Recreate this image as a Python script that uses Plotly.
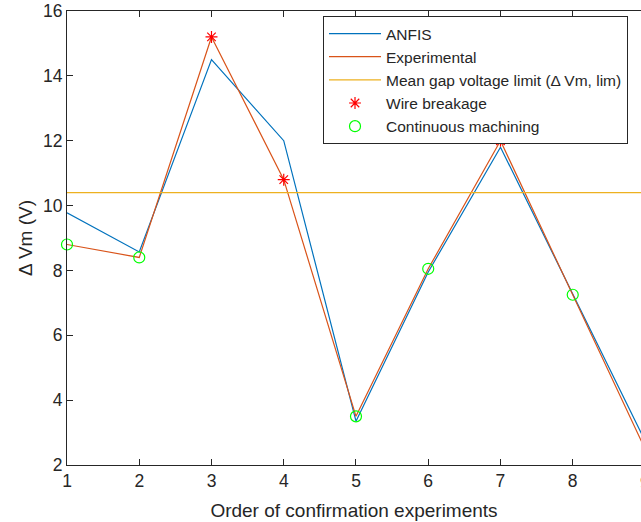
import plotly.graph_objects as go

# ---- data ----
experiments = [1, 2, 3, 4, 5, 6, 7, 8, 9]
anfis = [9.78, 8.57, 14.5, 12.0, 3.35, 7.95, 11.8, 7.3, 2.75]
experimental = [8.8, 8.4, 15.2, 10.8, 3.5, 8.05, 12.0, 7.25, 2.5]
limit_value = 10.4
breakage_x = [3, 4, 7]
breakage_y = [15.2, 10.8, 12.0]
continuous_x = [1, 2, 5, 6, 8, 9]
continuous_y = [8.8, 8.4, 3.5, 8.05, 7.25, 2.5]
x_ticks = [1, 2, 3, 4, 5, 6, 7, 8]
y_ticks = [2, 4, 6, 8, 10, 12, 14, 16]

XMIN, XMAX = 1, 8.945   # axis is cut at the window edge just before x = 9
FONT = "Liberation Sans, Arial, Helvetica, sans-serif"
TXT = "#262626"

fig = go.Figure()
fig.add_trace(go.Scatter(x=experiments, y=anfis, mode="lines", name="ANFIS",
                         line=dict(color="#0072BD", width=1.2)))
fig.add_trace(go.Scatter(x=experiments, y=experimental, mode="lines", name="Experimental",
                         line=dict(color="#D95319", width=1.2)))
fig.add_trace(go.Scatter(x=[experiments[0], experiments[-1]], y=[limit_value, limit_value],
                         mode="lines", name="Mean gap voltage limit (\u0394 Vm, lim)",
                         line=dict(color="#EDB120", width=1.2)))
fig.add_trace(go.Scatter(x=breakage_x, y=breakage_y, mode="markers", name="Wire breakage",
                         marker=dict(symbol="asterisk-open", size=10, color="red",
                                     line=dict(color="red", width=1.2)),
                         cliponaxis=False))
fig.add_trace(go.Scatter(x=continuous_x, y=continuous_y, mode="markers", name="Continuous machining",
                         marker=dict(symbol="circle-open", size=11, color="#00FF00",
                                     line=dict(color="#00FF00", width=1.2)),
                         cliponaxis=False))

fig.add_annotation(text="9", xref="paper", yref="paper",
                   x=(experiments[-1] - XMIN) / (XMAX - XMIN), y=0,
                   yanchor="top", xanchor="center", showarrow=False, yshift=-6,
                   font=dict(family=FONT, size=17.5, color=TXT))

fig.update_layout(
    width=641, height=522,
    margin=dict(l=67, r=0, t=11, b=57),
    paper_bgcolor="white", plot_bgcolor="white",
    font=dict(family=FONT, color=TXT),
    showlegend=True,
    legend=dict(x=0.446, y=0.989, xanchor="left", yanchor="top",
                bgcolor="white", bordercolor=TXT, borderwidth=1,
                font=dict(family=FONT, size=15.5, color=TXT),
                tracegroupgap=0, itemwidth=52),
    xaxis=dict(range=[XMIN, XMAX], tickvals=x_ticks, ticktext=[str(v) for v in x_ticks],
               ticks="inside", ticklen=6, tickcolor=TXT, showline=True, linecolor=TXT,
               linewidth=1, mirror="ticks", showgrid=False, zeroline=False,
               tickfont=dict(family=FONT, size=17.5, color=TXT),
               title=dict(text="Order of confirmation experiments",
                          font=dict(family=FONT, size=19, color=TXT), standoff=13)),
    yaxis=dict(range=[2, 16], tickvals=y_ticks, ticks="inside", ticklen=6, tickcolor=TXT,
               showline=True, linecolor=TXT, linewidth=1, mirror=False,
               showgrid=False, zeroline=False,
               tickfont=dict(family=FONT, size=17.5, color=TXT),
               title=dict(text="\u0394 Vm (V)", font=dict(family=FONT, size=19, color=TXT),
                          standoff=5)),
)

fig.write_html("out.html")
